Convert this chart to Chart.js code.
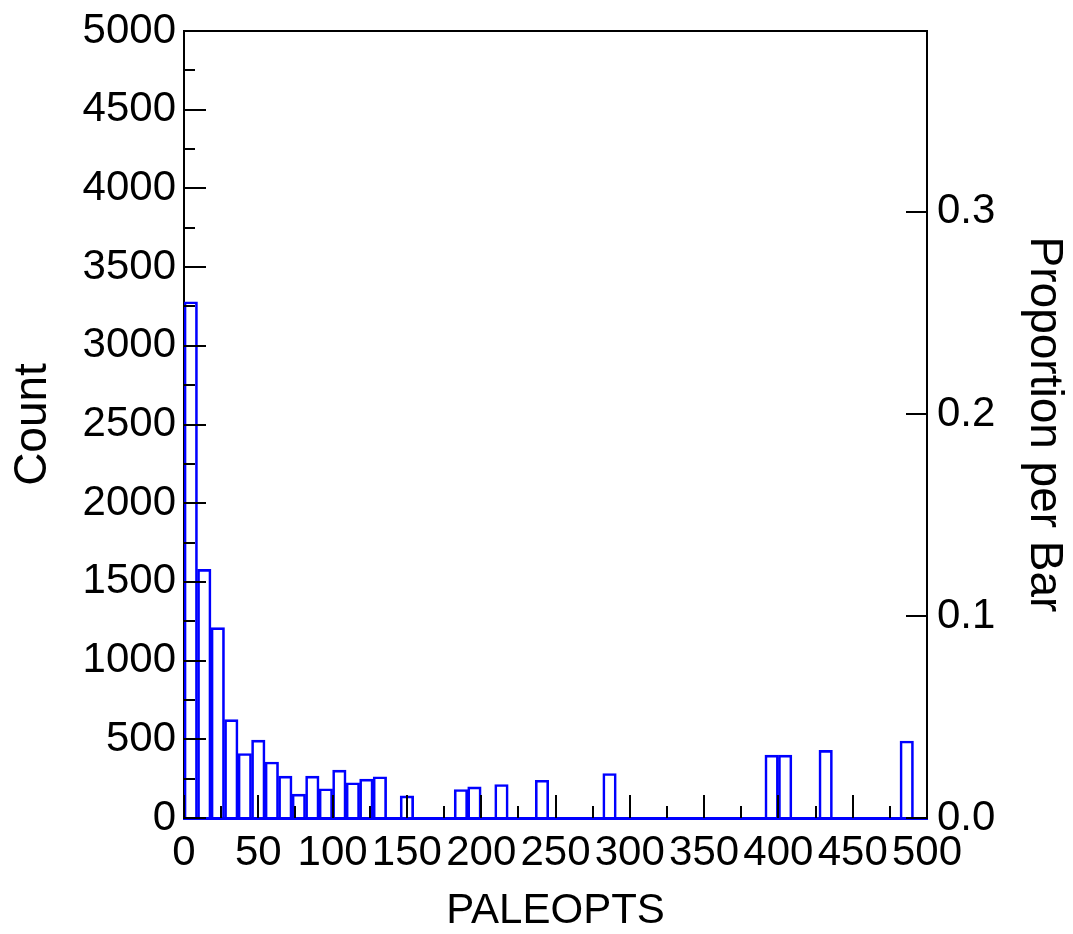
<!DOCTYPE html>
<html>
<head>
<meta charset="utf-8">
<title>PALEOPTS histogram</title>
<script src="https://cdn.jsdelivr.net/npm/chart.js@4.4.1/dist/chart.umd.min.js"></script>
<style>
  html, body { margin: 0; padding: 0; background: #fff; }
  #wrap { width: 1073px; height: 934px; }
</style>
</head>
<body>
<div id="wrap"><canvas id="histChart" width="1073" height="934"></canvas></div>
<script>
// 55 equal bins between 0 and 500
const binCount = 55;
const xMin = 0;
const xMax = 500;
const counts = [
    3280, 1580, 1210, 625, 410, 495, 356, 266, 152, 266,
    186, 304, 224, 247, 262, 0, 141, 0, 0, 0,
    181, 198, 0, 213, 0, 0, 240, 0, 0, 0,
    0, 283, 0, 0, 0, 0, 0, 0, 0, 0,
    0, 0, 0, 399, 399, 0, 0, 430, 0, 0,
    0, 0, 0, 489, 0
];
const countMax = 5000;
const countStep = 500;
const xStep = 50;
const propStep = 0.1;

const fontFamily = "'Liberation Sans', Arial, sans-serif";
const binWidth = (xMax - xMin) / binCount;
const total = counts.reduce((a, b) => a + b, 0);

const points = counts.map((c, i) => ({ x: xMin + (i + 0.5) * binWidth, y: c }));

// inward tick marks (major + minor) like the original plot
const innerTicks = {
    id: "innerTicks",
    afterDatasetsDraw(chart) {
        const { ctx, chartArea: area, scales } = chart;
        ctx.save();
        ctx.strokeStyle = "#000";
        ctx.lineWidth = 2;
        ctx.beginPath();

        // left count axis
        for (let v = 0; v <= countMax; v += countStep / 2) {
            const y = Math.round(scales.y.getPixelForValue(v));
            const len = v % countStep === 0 ? 22 : 11;
            ctx.moveTo(area.left, y);
            ctx.lineTo(area.left + len, y);
        }
        // bottom axis
        for (let v = xMin; v <= xMax; v += xStep / 2) {
            const x = Math.round(scales.x.getPixelForValue(v));
            const len = v % xStep === 0 ? 23 : 12;
            ctx.moveTo(x, area.bottom);
            ctx.lineTo(x, area.bottom - len);
        }
        // right proportion axis
        scales.y2.ticks.forEach(t => {
            const y = Math.round(scales.y2.getPixelForValue(t.value));
            ctx.moveTo(area.right, y);
            ctx.lineTo(area.right - 21, y);
        });
        ctx.stroke();
        ctx.restore();
    }
};

const ctx = document.getElementById("histChart").getContext("2d");
const histChart = new Chart(ctx, {
    type: "bar",
    data: {
        datasets: [{
            data: points,
            xAxisID: "x",
            yAxisID: "y",
            backgroundColor: "rgba(0,0,0,0)",
            borderColor: "#0000ff",
            borderWidth: 2,
            borderSkipped: "start",
            barPercentage: 1,
            categoryPercentage: 1
        }]
    },
    options: {
        responsive: false,
        animation: false,
        layout: { padding: 0 },
        plugins: {
            legend: { display: false },
            tooltip: { enabled: false }
        },
        scales: {
            x: {
                type: "linear",
                position: "bottom",
                min: xMin,
                max: xMax,
                offset: false,
                grid: { display: false, drawTicks: false },
                border: { display: true, color: "#0000ff", width: 3 },
                ticks: {
                    stepSize: xStep,
                    autoSkip: false,
                    maxRotation: 0,
                    color: "#000",
                    padding: 10,
                    font: { family: fontFamily, size: 42 },
                    callback: v => String(v)
                },
                title: {
                    display: true,
                    text: "PALEOPTS",
                    color: "#000",
                    font: { family: fontFamily, size: 42, lineHeight: 1 },
                    padding: { top: 0, bottom: 2 }
                },
                afterFit: s => { s.height = 116; }
            },
            xTop: {
                type: "linear",
                position: "top",
                min: xMin,
                max: xMax,
                grid: { display: false, drawTicks: false },
                border: { display: true, color: "#000", width: 2 },
                ticks: { display: false },
                afterFit: s => { s.height = 28; }
            },
            y: {
                type: "linear",
                position: "left",
                min: 0,
                max: countMax,
                grid: { display: false, drawTicks: false },
                border: { display: true, color: "#000", width: 2 },
                ticks: {
                    stepSize: countStep,
                    color: "#000",
                    padding: 8,
                    font: { family: fontFamily, size: 42, lineHeight: 1 },
                    callback: v => String(v)
                },
                title: {
                    display: true,
                    text: "Count",
                    color: "#000",
                    font: { family: fontFamily, size: 46, lineHeight: 1 },
                    padding: { top: 10, bottom: 0 }
                },
                afterFit: s => { s.width = 184; }
            },
            y2: {
                type: "linear",
                position: "right",
                min: 0,
                max: countMax / total,
                grid: { display: false, drawTicks: false },
                border: { display: true, color: "#000", width: 2 },
                ticks: {
                    stepSize: propStep,
                    includeBounds: false,
                    color: "#000",
                    padding: 10,
                    font: { family: fontFamily, size: 42, lineHeight: 1 },
                    callback: v => v.toFixed(1)
                },
                title: {
                    display: true,
                    text: "Proportion per Bar",
                    color: "#000",
                    font: { family: fontFamily, size: 46, lineHeight: 1 },
                    padding: { top: 6, bottom: 0 }
                },
                afterFit: s => { s.width = 146; }
            }
        }
    },
    plugins: [innerTicks]
});
</script>
</body>
</html>
